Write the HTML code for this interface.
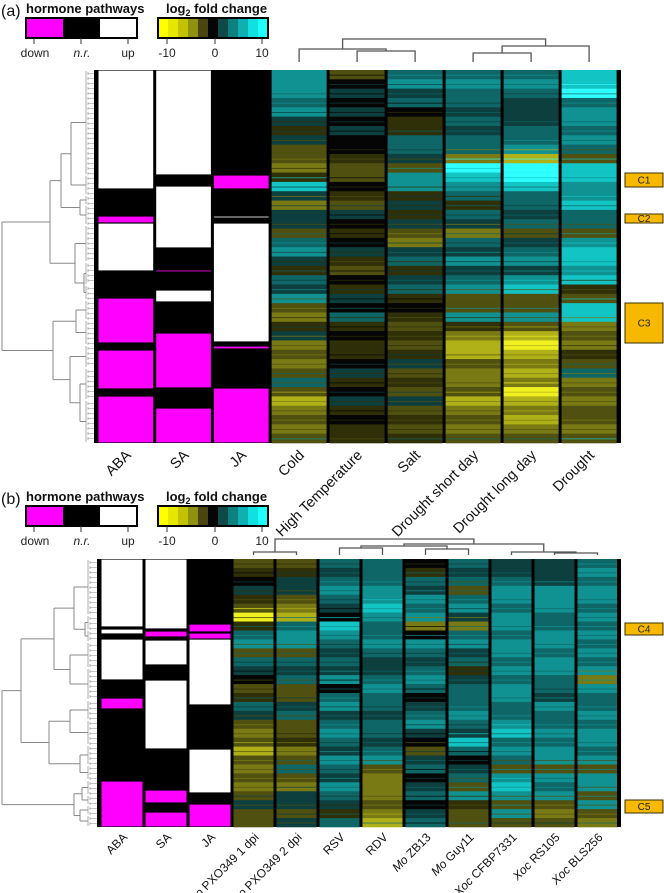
<!DOCTYPE html>
<html><head><meta charset="utf-8"><style>
html,body{margin:0;padding:0;background:#fff}
svg{display:block;font-family:"Liberation Sans",sans-serif}
</style></head><body>
<svg id="fig" width="664" height="893" viewBox="0 0 664 893" xmlns="http://www.w3.org/2000/svg"></svg>
<script>
// ---------- DATA ----------
const colsA = ["Cold","High Temperature","Salt","Drought short day","Drought long day","Drought"];
const coldA   = [3,3,3,2,3,1,-1,1,-2,-2,-3,-1,4,1,-3,1,1,-2,2,3,1,-1,2,1,3,-2,-3,-1,1,-3,-2,-3,-2,2,-2,-4,-3,-2,-3,-2];
const heatA   = [-2,0,1,0,1,0,1,0,0,-1,-2,-2,0,-1,-2,1,0,-1,0,1,-1,-2,0,-1,1,0,2,-1,0,-1,-1,0,1,-1,0,1,-1,0,-1,-1];
const saltA   = [2,3,1,2,0,-1,-1,2,2,1,-2,3,3,-1,1,-1,1,-2,-3,1,2,-1,1,2,-1,0,-1,-2,-1,-2,-1,1,-2,-1,-2,1,-2,-1,-2,-1];
const dsdA    = [2,3,2,2,1,2,1,2,2,-3,5,4,3,2,-1,2,1,-3,2,1,3,1,2,3,-2,-2,3,-1,-3,-4,-4,-2,-3,-3,-2,-4,-3,-2,-3,-2];
const dldA    = [2,3,2,1,1,1,2,2,3,-4,5,5,4,2,2,1,2,-2,1,2,3,1,3,4,-2,-2,3,-2,-4,-5,-4,-3,-4,-3,-5,-4,-3,-4,-3,-2];
const droughtA= [4,4,5,2,3,3,2,3,2,-2,4,4,3,3,4,2,2,-2,3,4,4,3,4,-1,-2,4,4,-3,-2,-3,-1,-2,2,-3,-2,-3,-2,-2,-3,-2];
const seriesA = [coldA,heatA,saltA,dsdA,dldA,droughtA];

const colsB = ["Xoo PXO349 1 dpi","Xoo PXO349 2 dpi","RSV","RDV","Mo ZB13","Mo Guy11","Xoc CFBP7331","Xoc RS105","Xoc BLS256"];
const xoo1B = [-2,-1,0,1,-1,-2,-5,-1,2,3,-2,2,1,0,-2,-1,2,1,-2,-3,-2,-4,-2,-3,-2,-3,-2,1,-2,-2];
const xoo2B = [-2,-1,1,1,-2,-3,-4,2,3,3,-2,2,1,2,-2,-2,1,2,-2,-2,-1,-3,-2,2,-2,-3,1,1,-2,1];
const rsvB  = [2,1,2,3,2,1,0,4,3,2,1,2,1,3,0,2,3,1,2,3,2,1,3,2,1,3,2,1,-1,2];
const rdvB  = [2,2,2,3,3,4,3,2,2,3,2,1,1,2,3,2,2,1,2,2,1,2,3,-2,-3,-3,-3,-2,-3,-4];
const mozbB = [0,-1,2,1,3,2,3,-3,0,3,2,1,2,3,2,0,1,2,3,1,0,-2,1,2,0,1,2,0,1,2];
const moguyB= [2,1,2,-2,2,3,1,-3,2,3,1,2,-1,1,2,2,2,3,2,1,4,2,0,1,2,-2,3,-1,-2,-2];
const xoccfB= [1,1,2,3,3,2,3,3,2,3,3,2,3,2,3,3,2,2,3,4,2,3,2,-2,3,4,3,-2,3,-2];
const xocrsB= [1,1,1,3,3,3,2,2,3,3,2,3,3,2,2,1,3,2,2,3,2,3,3,-2,3,2,3,-2,-3,-2];
const xocblB= [2,3,2,3,3,2,3,2,3,2,3,2,3,-3,3,2,2,3,2,3,3,2,3,-2,3,3,-2,3,-2,-3];
const seriesB = [xoo1B,xoo2B,rsvB,rdvB,mozbB,moguyB,xoccfB,xocrsB,xocblB];

const hormones = ["ABA","SA","JA"];
const abaA = [[0,119,'W'],[119,146,'K'],[146,153,'M'],[153,201,'W'],[201,228,'K'],[228,273,'M'],[273,280,'K'],[280,319,'M'],[319,326,'K'],[326,373,'M']];
const saA  = [[0,105,'W'],[105,116,'K'],[116,178,'W'],[178,200,'K'],[200,201.5,'M'],[201.5,220,'K'],[220,232,'W'],[232,263,'K'],[263,318,'M'],[318,338,'K'],[338,373,'M']];
const jaA  = [[0,105,'K'],[105,119,'M'],[119,146,'K'],[146,148,'W'],[148,153,'K'],[153,272,'W'],[272,276,'K'],[276,279,'M'],[279,318,'K'],[318,373,'M']];
const abaB = [[0,68,'W'],[68,70,'K'],[70,75,'W'],[75,80,'K'],[80,121,'W'],[121,139,'K'],[139,150,'M'],[150,222,'K'],[222,268,'M']];
const saB  = [[0,70,'W'],[70,72,'K'],[72,78,'M'],[78,81,'K'],[81,106,'W'],[106,121,'K'],[121,190,'W'],[190,231,'K'],[231,244,'M'],[244,253,'K'],[253,268,'M']];
const jaB  = [[0,65,'K'],[65,73,'M'],[73,74,'K'],[74,80,'M'],[80,146,'W'],[146,190,'K'],[190,234,'W'],[234,245,'K'],[245,268,'M']];

// ---------- HELPERS ----------
const NS="http://www.w3.org/2000/svg";
const svg=document.getElementById('fig');
function mk(tag,attrs,parent){const e=document.createElementNS(NS,tag);for(const k in attrs)e.setAttribute(k,attrs[k]);(parent||svg).appendChild(e);return e;}
function heatColor(v){
  const pos=["#050505","#0d3f3f","#0e6666","#109292","#12c4c4","#30ffff"];
  const neg=["#050505","#2f2f08","#505010","#7a7a14","#b0b018","#f0f020"];
  return v>=0?pos[Math.min(5,v)]:neg[Math.min(5,-v)];
}
const stateColor={W:"#ffffff",K:"#000000",M:"#ff00ff"};
function setLabel(t,s){
  const m=s.match(/^(Xoo|Xoc|Mo) (.*)$/);
  if(m){t.innerHTML='<tspan font-style="italic">'+m[1]+'</tspan> '+m[2];}else t.textContent=s;
}

function panel(cfg){
  const g=mk('g',{});
  
  
  const rowY=r=>cfg.top+(r/cfg.rows)*(cfg.bottom-cfg.top);
  mk('rect',{x:cfg.hx0-3,y:cfg.top,width:cfg.right-cfg.hx0+3,height:cfg.bottom-cfg.top,fill:"#000"},g);
  cfg.hseg.forEach((segs,i)=>{
    const x0=cfg.hx0+i*cfg.hw;
    const hg=mk('g',{},g);
    
    
    segs.forEach(s=>{
      if(s[2]==='K')return;
      const y0=rowY(s[0]),y1=rowY(s[1]);
      const r=mk('rect',{x:x0+1.5,y:y0+0.6,width:cfg.hw-3,height:Math.max(0.8,y1-y0-1.2),fill:stateColor[s[2]]},hg);
      
      
    });
  });
  const cx0=cfg.hx0+3*cfg.hw;
  cfg.series.forEach((vals,i)=>{
    const x0=cx0+i*cfg.cw;
    const cg=mk('g',{},g);
    
    
    const n=vals.length;
    vals.forEach((v,j)=>{
      const y0=rowY(j*cfg.rows/n),y1=rowY((j+1)*cfg.rows/n);
      const r=mk('rect',{x:x0+1.5,y:y0,width:cfg.cw-3,height:y1-y0+0.3,fill:heatColor(v)},cg);
      
      
    });
    for(let j=0;j<n;j++){
      const y=rowY((j+0.5)*cfg.rows/n);
      mk('rect',{x:x0+1.5,y:y,width:cfg.cw-3,height:1,fill:heatColor(vals[(j+1)%n]),opacity:0.7},cg);
    }
    const cx=x0+cfg.cw/2+6;
    const t=mk('text',{x:cx,y:cfg.labY,'font-size':cfg.fs,'text-anchor':'end',transform:`rotate(-45 ${cx} ${cfg.labY})`,fill:"#111"},g);
    setLabel(t,cfg.cols[i]);
    
    
  });
  hormones.forEach((h,i)=>{
    const cx=cfg.hx0+i*cfg.hw+cfg.hw/2+6;
    const t=mk('text',{x:cx,y:cfg.labY,'font-size':cfg.fs,'text-anchor':'end',transform:`rotate(-45 ${cx} ${cfg.labY})`,fill:"#111"},g);
    t.textContent=h;
    
    
  });
  mk('rect',{x:cfg.right-2,y:cfg.top,width:4,height:cfg.bottom-cfg.top,fill:"#000"},g);
  const colX=i=>cx0+i*cfg.cw+cfg.cw/2;
  const dg=mk('g',{stroke:"#555","stroke-width":1.3,fill:"none"},g);
  
  
  function dc(n){
    if(typeof n==='number')return {x:colX(n),y:cfg.leafY};
    const a=dc(n.k[0]),b=dc(n.k[1]);
    mk('path',{d:`M${a.x} ${a.y}V${n.h}H${b.x}V${b.y}`},dg);
    return {x:(a.x+b.x)/2,y:n.h};
  }
  dc(cfg.ctree);
  const rg=mk('g',{stroke:"#888","stroke-width":1,fill:"none"},g);
  
  
  function dr(n,px){
    if(n.y0!==undefined){
      const y=(n.y0+n.y1)/2;
      mk('path',{d:`M${px} ${y}H${cfg.leafX}`},rg);
      mk('path',{d:`M${cfg.leafX} ${n.y0+1}V${n.y1-1}`,stroke:"#999","stroke-width":0.8},rg);
      for(let yy=n.y0+2;yy<n.y1-1;yy+=5){
        mk('path',{d:`M${cfg.leafX+2} ${yy}V${yy+3}M${cfg.leafX+2} ${yy+1.5}H${cfg.hx0-3}`,"stroke-width":0.6,stroke:"#888"},rg);
      }
      return y;
    }
    const ys=n.k.map(c=>dr(c,n.x));
    const y=(ys[0]+ys[ys.length-1])/2;
    mk('path',{d:`M${n.x} ${ys[0]}V${ys[ys.length-1]}`},rg);
    if(px!==null)mk('path',{d:`M${px} ${y}H${n.x}`},rg);
    return y;
  }
  dr(cfg.rtree,null);
  mk('rect',{x:cfg.hx0-3,y:cfg.top,width:3,height:cfg.bottom-cfg.top,fill:"#000"},g);
}
const L=(a,b)=>({y0:a,y1:b});

panel({name:'panel-a',top:70,bottom:443,rows:373,hx0:97,hw:57.7,cw:58,right:619,
  hseg:[abaA,saA,jaA],series:seriesA,cols:colsA,labY:456,fs:14.5,leafY:62,leafX:86,
  ctree:{h:39,k:[{h:49,k:[0,{h:51,k:[1,2]}]},{h:46,k:[{h:53,k:[3,4]},5]}]},
  rtree:{x:2,k:[
    {x:50,k:[{x:61,k:[{x:71,k:[L(70,175),L(175,195)]},{x:80,k:[L(195,205),L(205,225)]}]},
             {x:75,k:[L(225,262),{x:84,k:[L(262,285),L(285,300)]}]}]},
    {x:53,k:[{x:76,k:[L(300,320),L(320,345)]},{x:70,k:[L(345,368),{x:80,k:[L(368,400),L(400,443)]}]}]}]}
});
panel({name:'panel-b',top:559,bottom:827,rows:268,hx0:100,hw:44,cw:43,right:619,
  hseg:[abaB,saB,jaB],series:seriesB,cols:colsB,labY:838,fs:12,leafY:555,leafX:88,
  ctree:{h:539,k:[{h:552,k:[0,1]},{h:544,k:[{h:546,k:[{h:548,k:[2,3]},{h:549,k:[4,5]}]},{h:552,k:[6,{h:553,k:[7,8]}]}]}]},
  rtree:{x:2,k:[
    {x:21,k:[{x:54,k:[{x:74,k:[L(559,615),{x:85,k:[L(615,630),L(630,642)]}]},{x:70,k:[L(642,668),L(668,700)]}]},
             {x:49,k:[{x:70,k:[L(700,720),L(720,745)]},{x:80,k:[L(745,765),L(765,780)]}]}]},
    {x:74,k:[{x:82,k:[L(780,795),L(795,805)]},{x:80,k:[L(805,815),L(815,827)]}]}]}
});

// ---------- LEGENDS ----------
function legend(dy,letter){
  const g=mk('g',{});
  
  
  const t0=mk('text',{x:1,y:16+dy,'font-size':16,fill:"#111"},g);t0.textContent='('+letter+')';
  
  const t1=mk('text',{x:26,y:13+dy,'font-size':13,'font-weight':'bold',fill:"#111"},g);t1.textContent='hormone pathways';
  
  [["#ff00ff",26],["#000",63],["#fff",100]].forEach(c=>mk('rect',{x:c[1],y:18+dy,width:37,height:20,fill:c[0]},g));
  mk('rect',{x:26,y:18+dy,width:111,height:20,fill:"none",stroke:"#000","stroke-width":2},g);
  [[34,"down",false],[81,"n.r.",true],[128,"up",false]].forEach(a=>{
    mk('line',{x1:a[0],y1:38+dy,x2:a[0],y2:44+dy,stroke:"#333"},g);
    const t=mk('text',{x:a[0]+(a[1]==='up'?0:1),y:57+dy,'font-size':12,'text-anchor':'middle','font-style':a[2]?'italic':'normal',fill:"#222"},g);
    t.textContent=a[1];
  });
  const t2=mk('text',{x:166,y:13+dy,'font-size':13,'font-weight':'bold',fill:"#111"},g);
  t2.innerHTML='log<tspan font-size="9" dy="3">2</tspan><tspan dy="-3"> fold change</tspan>';
  
  const cols=["#ffff00","#e6e600","#c2c200","#8f8f10","#4a4410","#050505","#0e4a4a","#0e8080","#10b0b0","#10e0e0","#20ffff"];
  cols.forEach((c,i)=>mk('rect',{x:158+i*10,y:18+dy,width:10.2,height:20,fill:c},g));
  mk('rect',{x:158,y:18+dy,width:110,height:20,fill:"none",stroke:"#000","stroke-width":2},g);
  [[167,"-10"],[215,"0"],[262,"10"]].forEach(a=>{
    mk('line',{x1:a[0],y1:38+dy,x2:a[0],y2:44+dy,stroke:"#333"},g);
    const t=mk('text',{x:a[0],y:57+dy,'font-size':12,'text-anchor':'middle',fill:"#222"},g);
    t.textContent=a[1];
  });
}
legend(0,'a');legend(488,'b');

// ---------- CLUSTER TAGS ----------
[["C1",173,187],["C2",214,223],["C3",303,343],["C4",623,635],["C5",800,813]].forEach(c=>{
  const g=mk('g',{});
  
  
  mk('rect',{x:625,y:c[1],width:38,height:c[2]-c[1],fill:"#f7b900",stroke:"#3a3000","stroke-width":1},g);
  const t=mk('text',{x:644,y:(c[1]+c[2])/2+3.5,'font-size':10,'text-anchor':'middle',fill:"#222"},g);
  t.textContent=c[0];
});
</script>
</body></html>
